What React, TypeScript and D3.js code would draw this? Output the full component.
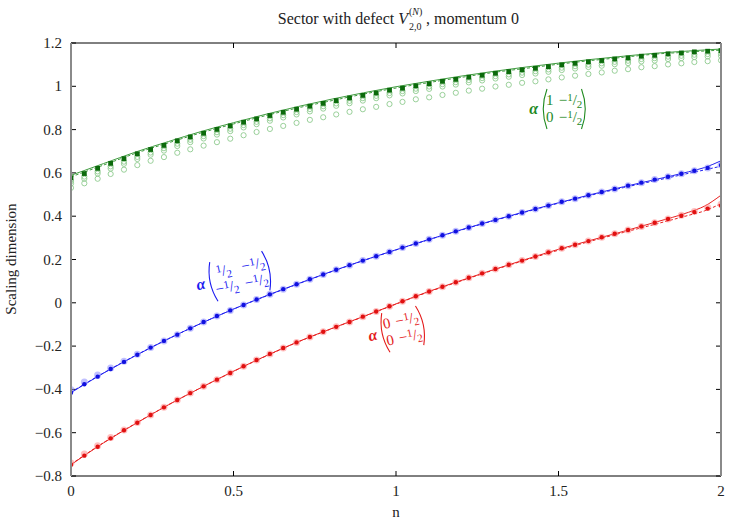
import React from "react";
import * as d3 from "d3";

const W = 747;
const H = 523;
const M = { left: 71, right: 26, top: 43, bottom: 47 };
const FONT = "'Liberation Serif', 'Times New Roman', serif";

// sample grid of the finite-size data (n values)
const N_GRID = [
  0, 0.041, 0.082, 0.122, 0.163, 0.204, 0.245, 0.286, 0.327, 0.367,
  0.408, 0.449, 0.49, 0.531, 0.571, 0.612, 0.653, 0.694, 0.735, 0.776,
  0.816, 0.857, 0.898, 0.939, 0.98, 1.02, 1.061, 1.102, 1.143, 1.184,
  1.224, 1.265, 1.306, 1.347, 1.388, 1.429, 1.469, 1.51, 1.551, 1.592,
  1.633, 1.673, 1.714, 1.755, 1.796, 1.837, 1.878, 1.918, 1.959, 2,
];

// green sector: filled squares (largest N) and open circles (smaller N)
const GREEN_SQ = [
  0.577, 0.597, 0.621, 0.644, 0.666, 0.688, 0.708, 0.727, 0.748, 0.766,
  0.783, 0.801, 0.817, 0.834, 0.849, 0.865, 0.88, 0.894, 0.908, 0.921,
  0.934, 0.946, 0.958, 0.969, 0.982, 0.991, 1.002, 1.012, 1.023, 1.032,
  1.042, 1.051, 1.06, 1.068, 1.076, 1.083, 1.091, 1.099, 1.106, 1.113,
  1.119, 1.126, 1.131, 1.139, 1.143, 1.15, 1.154, 1.159, 1.162, 1.165,
];
const GREEN_C1 = [
  0.562, 0.583, 0.607, 0.63, 0.652, 0.674, 0.694, 0.714, 0.735, 0.753,
  0.77, 0.788, 0.804, 0.821, 0.836, 0.852, 0.867, 0.881, 0.895, 0.908,
  0.921, 0.933, 0.945, 0.956, 0.969, 0.978, 0.989, 0.999, 1.01, 1.019,
  1.029, 1.038, 1.047, 1.055, 1.063, 1.07, 1.078, 1.086, 1.093, 1.1,
  1.106, 1.113, 1.118, 1.126, 1.13, 1.137, 1.141, 1.146, 1.149, 1.152,
];
const GREEN_C2 = [
  0.551, 0.573, 0.597, 0.62, 0.642, 0.664, 0.684, 0.703, 0.724, 0.742,
  0.759, 0.777, 0.793, 0.81, 0.825, 0.841, 0.856, 0.87, 0.884, 0.897,
  0.91, 0.922, 0.934, 0.945, 0.958, 0.967, 0.978, 0.988, 0.999, 1.008,
  1.018, 1.027, 1.036, 1.044, 1.052, 1.059, 1.067, 1.075, 1.082, 1.089,
  1.095, 1.102, 1.107, 1.115, 1.119, 1.126, 1.13, 1.135, 1.138, 1.141,
];
const GREEN_C3 = [
  0.531, 0.552, 0.573, 0.595, 0.615, 0.636, 0.656, 0.673, 0.693, 0.709,
  0.726, 0.742, 0.758, 0.774, 0.789, 0.803, 0.817, 0.831, 0.845, 0.857,
  0.87, 0.882, 0.894, 0.905, 0.918, 0.928, 0.94, 0.949, 0.96, 0.97,
  0.98, 0.989, 0.999, 1.007, 1.016, 1.023, 1.032, 1.041, 1.049, 1.057,
  1.064, 1.072, 1.079, 1.088, 1.093, 1.101, 1.106, 1.112, 1.116, 1.12,
];

const BLUE_PTS = [
  -0.415, -0.376, -0.341, -0.306, -0.273, -0.24, -0.207, -0.176, -0.147, -0.118,
  -0.089, -0.061, -0.035, -0.01, 0.015, 0.039, 0.063, 0.086, 0.109, 0.131,
  0.153, 0.174, 0.195, 0.215, 0.235, 0.255, 0.274, 0.293, 0.312, 0.33,
  0.348, 0.366, 0.383, 0.4, 0.417, 0.433, 0.449, 0.467, 0.481, 0.497,
  0.512, 0.526, 0.541, 0.555, 0.569, 0.582, 0.596, 0.61, 0.623, 0.636,
];
const BLUE_HALO = [
  -0.402, -0.366, -0.334, -0.301, -0.27, -0.238, -0.206, -0.176, -0.147, -0.118,
  -0.089, -0.061, -0.035, -0.01, 0.015, 0.039, 0.063, 0.086, 0.109, 0.131,
  0.153, 0.174, 0.195, 0.215, 0.235, 0.255, 0.274, 0.293, 0.312, 0.33,
  0.348, 0.366, 0.383, 0.4, 0.417, 0.433, 0.449, 0.467, 0.481, 0.497,
  0.512, 0.526, 0.541, 0.555, 0.569, 0.582, 0.596, 0.61, 0.623, 0.636,
];
const RED_PTS = [
  -0.748, -0.706, -0.665, -0.626, -0.589, -0.554, -0.518, -0.483, -0.449, -0.417,
  -0.386, -0.355, -0.324, -0.293, -0.264, -0.236, -0.209, -0.183, -0.158, -0.134,
  -0.111, -0.089, -0.064, -0.04, -0.016, 0.007, 0.03, 0.052, 0.074, 0.095,
  0.116, 0.136, 0.156, 0.176, 0.195, 0.214, 0.233, 0.252, 0.268, 0.285,
  0.303, 0.319, 0.336, 0.353, 0.37, 0.387, 0.402, 0.419, 0.435, 0.449,
];
const RED_HALO = [
  -0.74, -0.698, -0.66, -0.622, -0.587, -0.553, -0.518, -0.483, -0.449, -0.417,
  -0.386, -0.355, -0.324, -0.293, -0.264, -0.236, -0.209, -0.183, -0.158, -0.134,
  -0.111, -0.089, -0.064, -0.04, -0.016, 0.007, 0.03, 0.052, 0.074, 0.095,
  0.116, 0.136, 0.156, 0.176, 0.195, 0.214, 0.233, 0.252, 0.268, 0.285,
  0.303, 0.319, 0.336, 0.353, 0.37, 0.387, 0.404, 0.422, 0.44, 0.455,
];

// theory curves (solid) and extrapolation (dashed)
const LINE_N = [
  0, 0.1, 0.2, 0.3, 0.4, 0.5, 0.6, 0.7, 0.8, 0.9, 1,
  1.1, 1.2, 1.3, 1.4, 1.5, 1.6, 1.7, 1.8, 1.9, 1.95, 2,
];
const GREEN_SOLID = [
  0.589, 0.643, 0.697, 0.745, 0.791, 0.832, 0.871, 0.907, 0.94, 0.97, 0.998,
  1.023, 1.047, 1.069, 1.089, 1.107, 1.124, 1.139, 1.153, 1.163, 1.168, 1.172,
];
const GREEN_DASH = [
  0.582, 0.636, 0.691, 0.739, 0.785, 0.826, 0.865, 0.901, 0.933, 0.964, 0.992,
  1.017, 1.041, 1.064, 1.083, 1.102, 1.119, 1.134, 1.149, 1.158, 1.163, 1.167,
];
const BLUE_SOLID = [
  -0.415, -0.325, -0.243, -0.166, -0.095, -0.029, 0.032, 0.089, 0.144, 0.196, 0.245,
  0.292, 0.337, 0.381, 0.422, 0.462, 0.5, 0.536, 0.57, 0.605, 0.625, 0.656,
];
const BLUE_DASH = [
  -0.413, -0.324, -0.242, -0.166, -0.095, -0.029, 0.031, 0.088, 0.143, 0.195, 0.244,
  0.291, 0.336, 0.379, 0.42, 0.46, 0.497, 0.532, 0.565, 0.598, 0.614, 0.631,
];
const RED_SOLID = [
  -0.748, -0.647, -0.557, -0.471, -0.392, -0.316, -0.245, -0.179, -0.12, -0.063, -0.005,
  0.052, 0.103, 0.153, 0.201, 0.247, 0.289, 0.33, 0.373, 0.418, 0.447, 0.497,
];
const RED_DASH = [
  -0.746, -0.646, -0.556, -0.471, -0.392, -0.317, -0.246, -0.18, -0.121, -0.064, -0.006,
  0.05, 0.101, 0.151, 0.198, 0.243, 0.285, 0.325, 0.364, 0.404, 0.425, 0.458,
];

const X_TICKS = [0, 0.5, 1, 1.5, 2];
const Y_TICKS = [-0.8, -0.6, -0.4, -0.2, 0, 0.2, 0.4, 0.6, 0.8, 1, 1.2];

const GREEN_LABEL = [["1", "-1/2"], ["0", "-1/2"]];
const BLUE_LABEL = [["1/2", "-1/2"], ["-1/2", "-1/2"]];
const RED_LABEL = [["0", "-1/2"], ["0", "-1/2"]];

const x = d3.scaleLinear().domain([0, 2]).range([M.left, W - M.right]);
const y = d3.scaleLinear().domain([-0.8, 1.2]).range([H - M.bottom, M.top]);

function linePath(ys: number[], xs: number[]) {
  const gen = d3.line<number>()
    .x((_, i) => x(xs[i]))
    .y((d) => y(d))
    .curve(d3.curveMonotoneX);
  return gen(ys) || "";
}

function cellWidth(s: string) {
  const neg = s.startsWith("-");
  const body = neg ? s.slice(1) : s;
  return (neg ? 9 : 0) + (body.includes("/") ? 17 : 7.5);
}

function Cell({ s, cx, by }: { s: string; cx: number; by: number }) {
  const neg = s.startsWith("-");
  const body = neg ? s.slice(1) : s;
  if (body.includes("/")) {
    const [a, b] = body.split("/");
    return (
      <text x={cx} y={by} textAnchor="middle" fontSize={15}>
        {neg ? "\u2212" : ""}
        <tspan fontSize={11} dy={-4}>{a}</tspan>
        <tspan fontSize={15} dy={4}>/</tspan>
        <tspan fontSize={11} dy={3}>{b}</tspan>
      </text>
    );
  }
  return (
    <text x={cx} y={by} textAnchor="middle" fontSize={15}>
      {neg ? "\u2212" : ""}{body}
    </text>
  );
}

function MatrixLabel({ cells, tx, ty, angle, color }:
  { cells: string[][]; tx: number; ty: number; angle: number; color: string }) {
  const w1 = Math.max(cellWidth(cells[0][0]), cellWidth(cells[1][0]));
  const w2 = Math.max(cellWidth(cells[0][1]), cellWidth(cells[1][1]));
  const c1 = 5 + w1 / 2;
  const c2 = 5 + w1 + 4 + w2 / 2;
  const R = 5 + w1 + 4 + w2 + 4;
  return (
    <g transform={`translate(${tx},${ty}) rotate(${angle})`} fill={color}
      fontFamily={FONT}>
      <text x={-3} y={5} textAnchor="end" fontSize={16} fontWeight="bold"
        fontStyle="italic">α</text>
      <path d="M 6 -20 Q -1.5 0 6 20" fill="none" stroke={color} strokeWidth={1.1} />
      <path d={`M ${R - 6} -20 Q ${R + 1.5} 0 ${R - 6} 20`} fill="none"
        stroke={color} strokeWidth={1.1} />
      <Cell s={cells[0][0]} cx={c1} by={-4} />
      <Cell s={cells[0][1]} cx={c2} by={-4} />
      <Cell s={cells[1][0]} cx={c1} by={13} />
      <Cell s={cells[1][1]} cx={c2} by={13} />
    </g>
  );
}

export default function App() {
  const x0 = M.left, x1 = W - M.right, y0 = M.top, y1 = H - M.bottom;
  const tickFmt = (v: number) => d3.format("~g")(+v.toFixed(2));
  return (
    <svg width={W} height={H} style={{ position: "absolute", left: 0, top: 0, background: "#fff" }}
      fontFamily={FONT}>
      <defs>
        <clipPath id="plot">
          <rect x={x0} y={y0} width={x1 - x0} height={y1 - y0} />
        </clipPath>
      </defs>
      <rect width={W} height={H} fill="#fff" />

      {/* title, with stacked super/subscript on V */}
      <g fill="#222">
        <text x={408} y={24} textAnchor="end" fontSize={16}>
          Sector with defect <tspan fontStyle="italic">V</tspan>
        </text>
        <text x={409} y={15} fontSize={10}>
          (<tspan fontStyle="italic">N</tspan>)
        </text>
        <text x={409} y={30} fontSize={10}>2,0</text>
        <text x={426} y={24} fontSize={16}>, momentum 0</text>
      </g>

      {/* frame: top/bottom */}
      <line x1={x0} x2={x1} y1={y0} y2={y0} stroke="#000" strokeWidth={1} />
      <line x1={x0} x2={x1} y1={y1} y2={y1} stroke="#000" strokeWidth={1} />

      {/* ticks */}
      {Y_TICKS.map((t) => (
        <g key={"y" + t}>
          <line x1={x0} x2={x0 + 5} y1={y(t)} y2={y(t)} stroke="#000" />
          <line x1={x1} x2={x1 - 5} y1={y(t)} y2={y(t)} stroke="#000" />
          <text x={62} y={y(t) + 5} textAnchor="end" fontSize={15} fill="#222">
            {tickFmt(t)}
          </text>
        </g>
      ))}
      {X_TICKS.map((t) => (
        <g key={"x" + t}>
          <line x1={x(t)} x2={x(t)} y1={y1} y2={y1 - 5} stroke="#000" />
          <line x1={x(t)} x2={x(t)} y1={y0} y2={y0 + 5} stroke="#000" />
          <text x={x(t)} y={496} textAnchor="middle" fontSize={15} fill="#222">
            {tickFmt(t)}
          </text>
        </g>
      ))}

      {/* axis titles */}
      <text x={396} y={517} textAnchor="middle" fontSize={15} fill="#222">n</text>
      <text transform="translate(16,259) rotate(-90)" textAnchor="middle"
        fontSize={15} fill="#222">Scaling dimension</text>

      <g clipPath="url(#plot)">
        {/* green open circles */}
        {[GREEN_C3, GREEN_C2, GREEN_C1].map((arr, j) =>
          arr.map((v, i) => (
            <circle key={`gc${j}-${i}`} cx={x(N_GRID[i])} cy={y(v)} r={2.6}
              fill="none" stroke="#8fcb8f" strokeWidth={0.9} />
          ))
        )}
        {/* lines */}
        <path d={linePath(GREEN_SOLID, LINE_N)} fill="none" stroke="#3f9b3f" strokeWidth={1} />
        <path d={linePath(GREEN_DASH, LINE_N)} fill="none" stroke="#3f9b3f" strokeWidth={1}
          strokeDasharray="3,2" />
        <path d={linePath(BLUE_SOLID, LINE_N)} fill="none" stroke="#2020f0" strokeWidth={1} />
        <path d={linePath(BLUE_DASH, LINE_N)} fill="none" stroke="#2020f0" strokeWidth={1}
          strokeDasharray="3,2" />
        <path d={linePath(RED_SOLID, LINE_N)} fill="none" stroke="#e82020" strokeWidth={1} />
        <path d={linePath(RED_DASH, LINE_N)} fill="none" stroke="#e82020" strokeWidth={1}
          strokeDasharray="3,2" />

        {/* green squares */}
        {GREEN_SQ.map((v, i) => (
          <rect key={"gs" + i} x={x(N_GRID[i]) - 2.4} y={y(v) - 2.4} width={4.8} height={4.8}
            fill="#0b6a0b" />
        ))}
        {/* blue points */}
        {BLUE_HALO.map((v, i) => (
          <circle key={"bh" + i} cx={x(N_GRID[i])} cy={y(v)} r={3.5} fill="#8c8cff"
            fillOpacity={0.55} />
        ))}
        {BLUE_PTS.map((v, i) => (
          <circle key={"bp" + i} cx={x(N_GRID[i])} cy={y(v)} r={2.2} fill="#1010e0" />
        ))}
        {/* red points */}
        {RED_HALO.map((v, i) => (
          <circle key={"rh" + i} cx={x(N_GRID[i])} cy={y(v)} r={3.5} fill="#ff8c8c"
            fillOpacity={0.55} />
        ))}
        {RED_PTS.map((v, i) => (
          <circle key={"rp" + i} cx={x(N_GRID[i])} cy={y(v)} r={2.2} fill="#e01010" />
        ))}
      </g>

      {/* frame: left/right (gray, heavier) */}
      <line x1={x0} x2={x0} y1={y0} y2={y1} stroke="#8a8a8a" strokeWidth={2} />
      <line x1={x1} x2={x1} y1={y0} y2={y1} stroke="#8a8a8a" strokeWidth={2} />

      {/* sector labels */}
      <MatrixLabel cells={GREEN_LABEL} tx={541} ty={109} angle={0} color="#1f8a1f" />
      <MatrixLabel cells={BLUE_LABEL} tx={208} ty={283} angle={-12} color="#1a1af0" />
      <MatrixLabel cells={RED_LABEL} tx={380} ty={334} angle={-12} color="#e41a1a" />
    </svg>
  );
}
